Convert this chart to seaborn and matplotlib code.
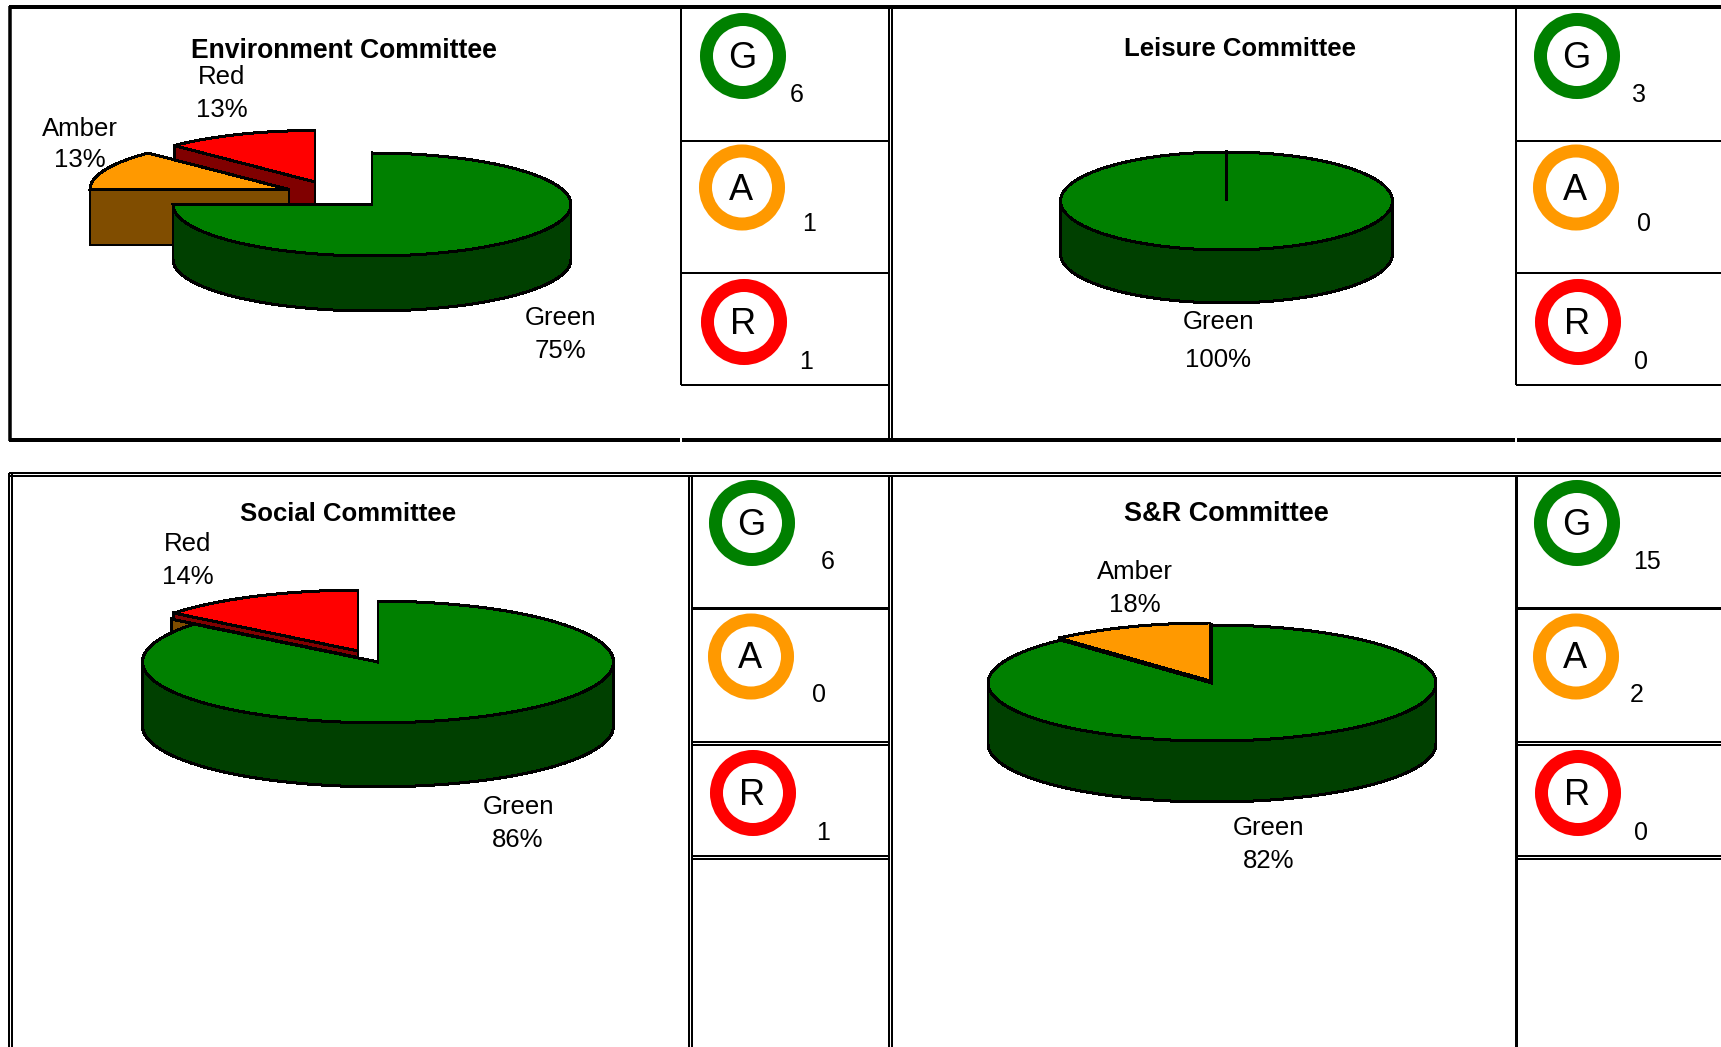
"""Four committee RAG status panels: a 3D-look pie next to G / A / R count cells."""
import matplotlib

matplotlib.use("Agg")
import matplotlib.pyplot as plt
import numpy as np
import pandas as pd
import seaborn as sns

# data
COMMITTEES = ["Environment Committee", "Leisure Committee", "Social Committee", "S&R Committee"]
STATUS = ["Green", "Amber", "Red"]
LETTERS = ["G", "A", "R"]
GREEN_COUNTS = [6, 3, 6, 15]
AMBER_COUNTS = [1, 0, 0, 2]
RED_COUNTS = [1, 0, 1, 0]
# the printed percentages (S&R does not agree with its own counts, kept as printed)
GREEN_LABELS = ["75%", "100%", "86%", "82%"]
AMBER_LABELS = ["13%", None, None, "18%"]
RED_LABELS = ["13%", None, "14%", None]

TOP_COLORS = {"Green": "#008000", "Amber": "#FF9900", "Red": "#FF0000"}
SIDE_COLORS = {"Green": "#004000", "Amber": "#804D00", "Red": "#800000"}

# layout, everything in figure pixels
PIES = [
    {"cx": 372, "cy": 204.5, "a": 199, "b": 51.5, "depth": 55,
     "shift": {"Amber": (-83, -15), "Red": (-57, -22.5)}},
    {"cx": 1226.5, "cy": 201, "a": 166, "b": 49, "depth": 53, "shift": {}},
    {"cx": 378, "cy": 662, "a": 235.5, "b": 60.8, "depth": 64,
     "shift": {"Amber": (-22.5, -5), "Red": (-20, -11)}},
    {"cx": 1212, "cy": 683, "a": 224, "b": 58, "depth": 61, "shift": {"Amber": (-2, -2)}},
]
TITLE_POS = [(344, 51), (1239.5, 48.5), (348, 514), (1226.5, 514)]
TITLE_SIZES = [19.1, 18.5, 18.5, 19.5]
LABEL_POS = [
    {"Green": (560, 318, 351), "Amber": (80, 129, 160), "Red": (222, 77, 110)},
    {"Green": (1218, 322, 360)},
    {"Green": (518, 807, 840), "Red": (188, 544, 577)},
    {"Green": (1269, 828, 861), "Amber": (1135, 572, 605)},
]
RING_POS = [
    [(743, 56), (742, 187.5), (744, 322)],
    [(1577, 56), (1576, 187.5), (1578, 322)],
    [(752, 523), (751, 656.5), (753, 793)],
    [(1577, 523), (1576, 656.5), (1578, 793)],
]
COUNT_POS = [
    [(797, 95), (809, 224), (806, 362)],
    [(1639, 95), (1644.5, 224), (1641, 362)],
    [(828, 562), (819, 695), (823, 833)],
    [(1647, 562), (1637, 695), (1641, 833)],
]

sns.set_theme(style="white")
plt.rcParams["font.family"] = ["Liberation Sans", "DejaVu Sans"]


def px(width):
    """line width in pixels to points"""
    return width * 0.72


def rim(pie, t):
    """point on the top ellipse, t in degrees clockwise from 12 o'clock"""
    t = np.radians(t)
    return pie["a"] * np.sin(t), -pie["b"] * np.cos(t)


def draw_slice(ax, pie, name, start, end):
    """one pie slice: visible cut face, outer wall, then the top face"""
    dx, dy = pie["shift"].get(name, (0, 0))
    cx, cy = pie["cx"] + dx, pie["cy"] + dy
    depth = pie["depth"]
    style = {"edgecolor": "black", "linewidth": px(2), "joinstyle": "miter", "antialiased": False}

    # cut face of the first radial edge, visible on the left half only
    if np.sin(np.radians(start)) < -1e-9:
        ex, ey = rim(pie, start)
        ax.fill([cx, cx + ex, cx + ex, cx], [cy, cy + ey, cy + ey + depth, cy + depth],
                facecolor=SIDE_COLORS[name], **style)

    # outer wall, only the front half of the ellipse shows
    lo, hi = max(start, 90), min(end, 270)
    if hi > lo:
        ts = np.linspace(lo, hi, 120)
        ex, ey = rim(pie, ts)
        ax.fill(np.r_[cx + ex, cx + ex[::-1]], np.r_[cy + ey, cy + ey[::-1] + depth],
                facecolor=SIDE_COLORS[name], **style)

    ts = np.linspace(start, end, 240)
    ex, ey = rim(pie, ts)
    ax.fill(np.r_[cx, cx + ex], np.r_[cy, cy + ey], facecolor=TOP_COLORS[name], **style)


def draw_pie(ax, pie, counts):
    """slice angles come from the counts, back slices are painted first"""
    ends = np.cumsum(counts) / sum(counts) * 360
    starts = np.r_[0, ends[:-1]]
    for i in reversed(range(len(counts))):
        draw_slice(ax, pie, STATUS[i], starts[i], ends[i])


def draw_frames(ax):
    """table borders of the two rows"""
    # top row
    ax.hlines([7, 440], 9, 1721, color="black", linewidth=px(4))
    ax.vlines(9.5, 6, 441, color="black", linewidth=px(3.5))
    ax.vlines([889, 892], 7, 440, color="black", linewidth=px(2))
    ax.vlines([681, 1516], 7, 385, color="black", linewidth=px(2))
    ax.hlines([141, 273, 385], 681, 889, color="black", linewidth=px(2))
    ax.hlines([141, 273, 385], 1516, 1721, color="black", linewidth=px(2))
    ax.vlines([681, 1516], 438, 442, color="white", linewidth=px(2))

    # bottom row
    ax.hlines([473, 476], 9, 1721, color="black", linewidth=px(2))
    ax.vlines([9, 12], 473, 1047, color="black", linewidth=px(2))
    ax.vlines([689, 692], 476, 1047, color="black", linewidth=px(2))
    ax.vlines([889, 892], 476, 1047, color="black", linewidth=px(2))
    ax.vlines(1516, 476, 1047, color="black", linewidth=px(3))
    for left, right in [(692, 889), (1516, 1721)]:
        ax.hlines(608, left, right, color="black", linewidth=px(3))
        ax.hlines([742, 745, 856, 859], left, right, color="black", linewidth=px(2))


def draw_rings(ax):
    """G / A / R rings as one seaborn scatter, hue is the status"""
    rows = []
    for i in range(len(COMMITTEES)):
        for j, name in enumerate(STATUS):
            rows.append({"x": RING_POS[i][j][0], "y": RING_POS[i][j][1], "status": name})
    rings = pd.DataFrame(rows)

    # white face with a thick edge would lose the hue, so paint the edge colour per point
    sns.scatterplot(data=rings, x="x", y="y", s=2765, marker="o", legend=False, ax=ax,
                    facecolor="white", edgecolor=[TOP_COLORS[s] for s in rings["status"]],
                    linewidth=px(13), zorder=3)


def main():
    fig = plt.figure(figsize=(17.21, 10.47), dpi=100)
    ax = fig.add_axes([0, 0, 1, 1])

    draw_frames(ax)

    for i, pie in enumerate(PIES):
        counts = [GREEN_COUNTS[i], AMBER_COUNTS[i], RED_COUNTS[i]]
        draw_pie(ax, pie, counts)

        # title and slice labels
        ax.text(*TITLE_POS[i], COMMITTEES[i], fontsize=TITLE_SIZES[i], fontweight="bold",
                ha="center", va="center", color="black")
        printed = {"Green": GREEN_LABELS[i], "Amber": AMBER_LABELS[i], "Red": RED_LABELS[i]}
        for name, (x, y1, y2) in LABEL_POS[i].items():
            ax.text(x, y1, name, fontsize=18.5, ha="center", va="center", color="black")
            ax.text(x, y2, printed[name], fontsize=18.5, ha="center", va="center", color="black")

        # counts beside the rings
        for j, count in enumerate(counts):
            ax.text(*COUNT_POS[i][j], str(count), fontsize=18, ha="center", va="center",
                    color="black", zorder=4)
            rx, ry = RING_POS[i][j]
            ax.text(rx - 1, ry + 2.5, LETTERS[j], fontsize=26, ha="center", va="center",
                    color="black", zorder=4)

    draw_rings(ax)

    # axes in figure pixels, y running down like the picture
    ax.set_xlim(0, 1721)
    ax.set_ylim(1047, 0)
    ax.set_xlabel("")
    ax.set_ylabel("")
    ax.axis("off")

    fig.savefig("out.png", dpi=100, facecolor="white")
    plt.close(fig)


if __name__ == "__main__":
    main()
